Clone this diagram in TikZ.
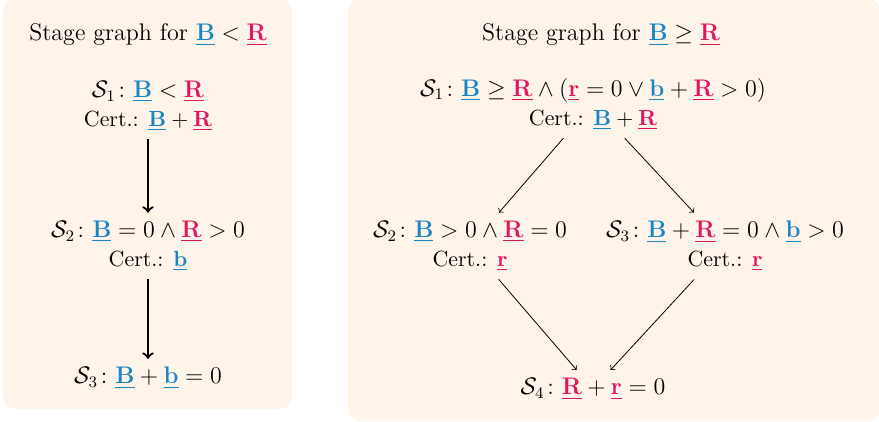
\documentclass[tikz,border=0pt,12pt]{standalone}
\usepackage{amsmath,amssymb}
\definecolor{cblue}{HTML}{1A86C3}
\definecolor{cpink}{HTML}{E2155F}
\definecolor{panelbg}{HTML}{FEF4EA}
\newcommand{\myB}{\textcolor{cblue}{\underline{\mathbf{B}}}}
\newcommand{\myb}{\textcolor{cblue}{\underline{\mathbf{b}}}}
\newcommand{\myR}{\textcolor{cpink}{\underline{\mathbf{R}}}}
\newcommand{\myr}{\textcolor{cpink}{\underline{\mathbf{r}}}}
\newcommand{\cert}[1]{{\small Cert.: $#1$}}
\begin{document}
\begin{tikzpicture}[x=0.5pt,y=-0.5pt,
  panel/.style={fill=panelbg,draw=none,rounded corners=6pt},
  stage/.style={align=center,inner sep=4pt},
  bigarrow/.style={->,line width=1.1pt},
  thinarrow/.style={->,line width=0.4pt}]
\useasboundingbox (0,0) rectangle (879,422);
\clip (0,0) rectangle (879,422);
\fill[panel] (3,-1) rectangle (292,409);
\fill[panel] (348,-1) rectangle (880,421);
% left panel
\node (lt) at (148,35) {Stage graph for $\myB < \myR$};
\node[stage] (l1) at (148,106) {$\mathcal{S}_1\colon \myB < \myR$\\ \cert{\myB + \myR}};
\node[stage] (l2) at (148,246) {$\mathcal{S}_2\colon \myB = 0 \land \myR > 0$\\ \cert{\myb}};
\node[stage] (l3) at (148,378) {$\mathcal{S}_3\colon \myB + \myb = 0$};
\draw[bigarrow] (l1) -- (l2);
\draw[bigarrow] (l2) -- (l3);
% right panel
\node (rt) at (601,35) {Stage graph for $\myB \geq \myR$};
\node[stage] (r1) at (593,104) {$\mathcal{S}_1\colon \myB \geq \myR \land (\myr = 0 \lor \myb + \myR > 0)$\\ \cert{\myB + \myR}};
\node[stage] (r2) at (470,246) {$\mathcal{S}_2\colon \myB > 0 \land \myR = 0$\\ \cert{\myr}};
\node[stage] (r3) at (725,246) {$\mathcal{S}_3\colon \myB + \myR = 0 \land \myb > 0$\\ \cert{\myr}};
\node[stage] (r4) at (593,389) {$\mathcal{S}_4\colon \myR + \myr = 0$};
\draw[thinarrow] (r1) -- (r2);
\draw[thinarrow] (r1) -- (r3);
\draw[thinarrow] (r2) -- (r4);
\draw[thinarrow] (r3) -- (r4);
\end{tikzpicture}
\end{document}
